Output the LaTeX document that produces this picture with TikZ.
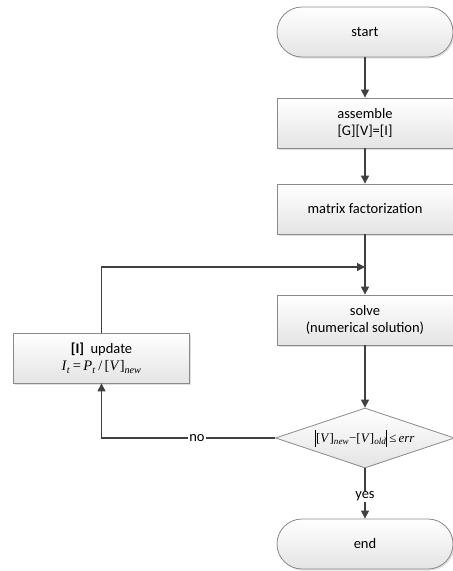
\documentclass[tikz,border=0pt]{standalone}
\usepackage{fontspec}
\usepackage{graphicx}
\setmainfont{Carlito}
\newfontfamily\tmsfont{Liberation Serif}
\usetikzlibrary{arrows.meta,shapes.geometric,shadows,positioning}
\definecolor{lnc}{HTML}{404040}
\definecolor{bdc}{HTML}{8A8A8A}
\definecolor{fillbot}{HTML}{E4E4E4}
\newcommand{\bigbar}{\raisebox{-4pt}{\rule{0.7pt}{17pt}}}
\begin{document}
\begin{tikzpicture}[x=1pt,y=-1pt,
  font=\fontsize{14.5}{17.5}\selectfont,
  every node/.style={align=center},
  boxstyle/.style={draw=bdc, line width=0.8pt, top color=white, bottom color=fillbot,
    minimum width=176pt, minimum height=50pt, inner sep=0pt,
    drop shadow={shadow xshift=1.5pt, shadow yshift=-1.5pt, opacity=0.25, fill=gray}},
  termstyle/.style={boxstyle, rounded corners=25pt},
  decstyle/.style={diamond, draw=bdc, line width=0.8pt, top color=white, bottom color=fillbot,
    minimum width=179pt, minimum height=60pt, inner sep=0pt, aspect=3},
  conn/.style={draw=lnc, line width=1.2pt, -{Triangle[width=8pt,length=8pt]}},
  lbl/.style={fill=white, inner sep=1pt}
]
\useasboundingbox (0,0) rectangle (453,571);

\node[termstyle] (start) at (365,32) {start};
\node[boxstyle] (asm) at (365,123) {assemble\\\relax [G][V]=[I]};
\node[boxstyle] (fact) at (365,209) {matrix factorization};
\coordinate (junc) at (365,267);
\node[boxstyle] (solve) at (365,320) {solve\\(numerical solution)};
\node[decstyle] (dec) at (365,438) {};
\node[font=\fontsize{13}{15}\tmsfont] (dectext) at (dec.center) {\bigbar[\textit{V}]\textsubscript{\textit{new}}−[\textit{V}]\textsubscript{\textit{old}}\bigbar\,≤\,\textit{err}};
\node[boxstyle] (upd) at (101.5,358) {\textbf{[I]}\ \ update\\{\tmsfont\textit{I}\textsubscript{\textit{t}}\,=\,\textit{P}\textsubscript{\textit{t}}\,/\,[\textit{V}]\textsubscript{\textit{new}}}};
\node[termstyle] (end) at (365,544) {end};
\coordinate (corner1) at (101.5,438);
\coordinate (corner2) at (101.5,267);

\draw[conn] (start) -- (asm);
\draw[conn] (asm) -- (fact);
\draw[conn] (fact) -- (solve);
\draw[conn] (upd.north) -- (corner2) -- (junc);
\draw[conn] (solve) -- (dec);
\draw[conn] (dec.west) -- node[lbl, pos=0.45] {no} (corner1) -- (upd.south);
\draw[conn] (dec.south) -- node[lbl, pos=0.56] {yes} (end);
\end{tikzpicture}
\end{document}
